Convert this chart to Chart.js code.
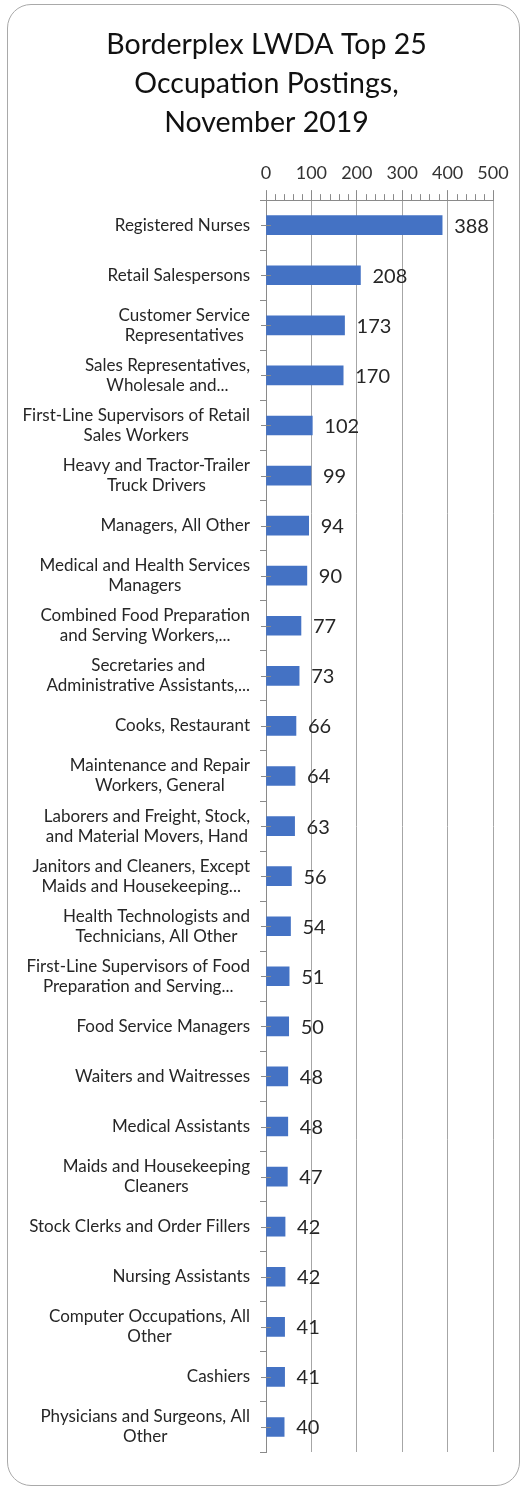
<!DOCTYPE html>
<html>
<head>
<meta charset="utf-8">
<script src="https://cdn.jsdelivr.net/npm/chart.js@4/dist/chart.umd.min.js"></script>
<style>
  html, body { margin: 0; padding: 0; background: #fff; }
  #wrap { position: relative; width: 528px; height: 1488px; }
  #frame {
    position: absolute; left: 7px; top: 4px; right: 8px; bottom: 2px;
    border: 1.5px solid #a9a9a9; border-radius: 24px; pointer-events: none;
  }
</style>
</head>
<body>
<div id="wrap">
  <canvas id="chart" width="528" height="1488"></canvas>
  <div id="frame"></div>
</div>
<script>
const titleLines = ['Borderplex LWDA Top 25', 'Occupation Postings,', 'November 2019'];

const occupations = [
  ['Registered Nurses'],
  ['Retail Salespersons'],
  ['Customer Service', 'Representatives'],
  ['Sales Representatives,', 'Wholesale and...'],
  ['First-Line Supervisors of Retail', 'Sales Workers'],
  ['Heavy and Tractor-Trailer', 'Truck Drivers'],
  ['Managers, All Other'],
  ['Medical and Health Services', 'Managers'],
  ['Combined Food Preparation', 'and Serving Workers,...'],
  ['Secretaries and', 'Administrative Assistants,...'],
  ['Cooks, Restaurant'],
  ['Maintenance and Repair', 'Workers, General'],
  ['Laborers and Freight, Stock,', 'and Material Movers, Hand'],
  ['Janitors and Cleaners, Except', 'Maids and Housekeeping...'],
  ['Health Technologists and', 'Technicians, All Other'],
  ['First-Line Supervisors of Food', 'Preparation and Serving...'],
  ['Food Service Managers'],
  ['Waiters and Waitresses'],
  ['Medical Assistants'],
  ['Maids and Housekeeping', 'Cleaners'],
  ['Stock Clerks and Order Fillers'],
  ['Nursing Assistants'],
  ['Computer Occupations, All', 'Other'],
  ['Cashiers'],
  ['Physicians and Surgeons, All', 'Other']
];

const postings = [388, 208, 173, 170, 102, 99, 94, 90, 77, 73, 66, 64, 63, 56, 54, 51, 50, 48, 48, 47, 42, 42, 41, 41, 40];

const axisMin = 0;
const axisMax = 500;
const majorStep = 100;
const minorStep = 20;

const FONT = 'Lato, "Open Sans", sans-serif';
const AXIS_GRAY = '#8a8a8a';

// category names, centred line by line and right-aligned as a block
const categoryLabels = {
  id: 'categoryLabels',
  afterDraw(chart) {
    const { ctx, scales: { y } } = chart;
    const right = y.right - 16;
    const lineH = 20;
    ctx.save();
    ctx.font = '17px ' + FONT;
    ctx.fillStyle = '#262626';
    ctx.textAlign = 'center';
    ctx.textBaseline = 'middle';
    occupations.forEach((lines, i) => {
      const cy = y.getPixelForValue(i);
      const w = Math.max(...lines.map(l => ctx.measureText(l).width));
      const cx = right - w / 2;
      lines.forEach((l, k) => {
        ctx.fillText(l, cx, cy + (k - (lines.length - 1) / 2) * lineH);
      });
    });
    ctx.restore();
  }
};

// small tick marks: minor ticks on the value axis, centre ticks on the category axis
const extraTicks = {
  id: 'extraTicks',
  afterDatasetsDraw(chart) {
    const { ctx, scales: { x, y } } = chart;
    ctx.save();
    ctx.strokeStyle = AXIS_GRAY;
    ctx.lineWidth = 1;
    ctx.beginPath();
    for (let v = axisMin + minorStep; v < axisMax; v += minorStep) {
      if (v % majorStep === 0) continue;
      const px = Math.round(x.getPixelForValue(v)) + 0.5;
      ctx.moveTo(px, y.top - 6);
      ctx.lineTo(px, y.top);
    }
    occupations.forEach((_, i) => {
      const py = Math.round(y.getPixelForValue(i)) + 0.5;
      ctx.moveTo(x.left - 5, py);
      ctx.lineTo(x.left + 5, py);
    });
    ctx.stroke();
    ctx.restore();
  }
};

// value labels to the right of each bar
const valueLabels = {
  id: 'valueLabels',
  afterDatasetsDraw(chart) {
    const { ctx } = chart;
    const meta = chart.getDatasetMeta(0);
    ctx.save();
    ctx.font = '20px ' + FONT;
    ctx.fillStyle = '#262626';
    ctx.textAlign = 'left';
    ctx.textBaseline = 'middle';
    meta.data.forEach((bar, i) => {
      ctx.fillText(String(postings[i]), bar.x + 12, bar.y + 1);
    });
    ctx.restore();
  }
};

new Chart(document.getElementById('chart'), {
  type: 'bar',
  data: {
    labels: occupations.map(l => l.join(' ')),
    datasets: [{
      data: postings,
      backgroundColor: '#4472C4',
      borderWidth: 0,
      barThickness: 19
    }]
  },
  options: {
    indexAxis: 'y',
    responsive: false,
    animation: false,
    layout: { padding: { top: 18, left: 40, right: 35, bottom: 36 } },
    plugins: {
      legend: { display: false },
      tooltip: { enabled: false },
      title: {
        display: true,
        text: titleLines,
        color: '#111',
        font: { family: FONT, size: 28.5, weight: 'normal', lineHeight: 1.37 },
        padding: { top: 7, bottom: 10 }
      }
    },
    scales: {
      x: {
        position: 'top',
        min: axisMin,
        max: axisMax,
        afterFit(scale) { scale.height = 48; },
        ticks: {
          stepSize: majorStep,
          color: '#333',
          padding: 6,
          font: { family: FONT, size: 18 }
        },
        grid: { color: '#a6a6a6', tickLength: 10, tickColor: AXIS_GRAY },
        border: { color: AXIS_GRAY }
      },
      y: {
        offset: true,
        afterFit(scale) { scale.width = 226; },
        ticks: { display: false },
        grid: { offset: true, drawOnChartArea: false, tickLength: 6, color: AXIS_GRAY },
        border: { color: AXIS_GRAY }
      }
    }
  },
  plugins: [categoryLabels, extraTicks, valueLabels]
});
</script>
</body>
</html>
